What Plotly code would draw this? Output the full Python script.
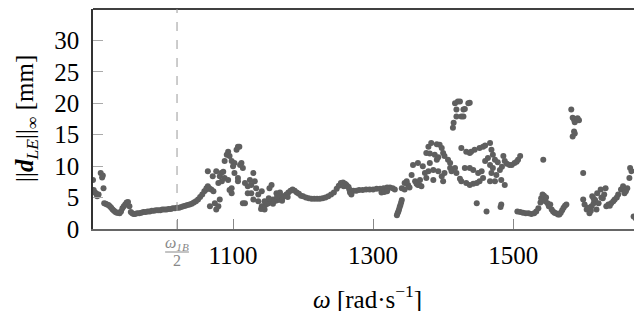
import plotly.graph_objects as go

# ---- data (omega in rad/s, ||d_LE||_inf in mm) ----
omega_left = [900, 901, 903, 905, 906, 908, 911, 913, 914, 915]
d_left = [7.8, 6.2, 5.8, 5.6, 5.2, 5.5, 8.9, 8.2, 8.5, 6.5]

omega_band1 = [916, 918, 920, 922, 924, 926, 928, 930, 932, 934, 936, 938, 940, 942, 944, 946,
               948, 950, 952, 954, 956, 958, 960, 963, 966, 969, 972, 975, 978, 981, 984, 987,
               990, 993, 996, 999, 1002, 1005, 1008, 1011, 1014, 1017, 1020, 1023, 1026, 1029,
               1032, 1035, 1038, 1041, 1044, 1047, 1050, 1053, 1056, 1059, 1062, 1064]
d_band1 = [4.1, 4.0, 3.9, 3.8, 3.6, 3.4, 3.1, 2.9, 2.7, 2.6, 2.6, 2.5, 2.8, 3.3, 3.6, 3.9,
           4.2, 4.3, 3.6, 2.7, 2.5, 2.4, 2.4, 2.5, 2.5, 2.6, 2.7, 2.7, 2.8, 2.8, 2.9, 2.9,
           3.0, 3.0, 3.0, 3.1, 3.1, 3.1, 3.2, 3.2, 3.3, 3.3, 3.4, 3.4, 3.5, 3.6,
           3.7, 3.8, 3.9, 4.0, 4.2, 4.4, 4.7, 5.1, 5.5, 6.0, 6.5, 6.8]

omega_scat1 = [1107, 1109, 1093, 1091, 1095, 1098, 1088, 1102, 1112, 1114, 1064, 1076, 1083,
               1086, 1102, 1071, 1081, 1088, 1093, 1107, 1129, 1079, 1084, 1107, 1117, 1124,
               1131, 1121, 1126, 1133, 1155, 1152, 1098, 1098, 1121, 1126, 1136, 1141, 1062,
               1066, 1069, 1072, 1067, 1074, 1081, 1076, 1079, 1117, 1129, 1136, 1141, 1145,
               1150, 1157, 1164, 1171, 1162, 1167, 1105, 1110, 1100, 1095, 1114]
d_scat1 = [13.1, 13.1, 12.3, 11.8, 11.6, 10.8, 10.8, 10.5, 10.5, 9.7, 9.2, 9.2, 8.9,
           9.1, 8.9, 8.4, 8.4, 8.1, 7.8, 8.1, 8.9, 7.3, 7.6, 7.6, 7.3, 7.8,
           7.6, 6.8, 7.0, 6.5, 7.0, 6.5, 6.5, 5.7, 5.7, 5.7, 5.5, 6.0, 6.3,
           6.5, 6.3, 6.0, 3.6, 4.1, 4.7, 3.1, 3.6, 4.1, 4.7, 4.4, 3.6, 3.1,
           4.1, 4.7, 4.9, 5.2, 5.7, 5.8, 12.6, 10.2, 10.0, 6.2, 4.1]

omega_band2 = [1140, 1143, 1146, 1149, 1152, 1155, 1158, 1161, 1164, 1167, 1170, 1173, 1176,
               1179, 1182, 1185, 1188, 1191, 1194, 1197, 1200, 1204, 1208, 1212, 1216, 1220,
               1224, 1228, 1232, 1236, 1240, 1244, 1248, 1251, 1254, 1257, 1260, 1263, 1266,
               1269, 1272, 1276, 1280, 1285, 1290, 1295, 1300, 1305, 1310, 1315, 1320, 1324,
               1328, 1331]
d_band2 = [3.2, 3.5, 3.8, 4.0, 4.2, 4.3, 4.4, 4.5, 4.6, 4.7, 4.9, 5.2, 5.5,
           5.8, 6.1, 6.3, 6.1, 5.8, 5.6, 5.3, 5.2, 5.0, 4.9, 4.8, 4.8, 4.8,
           4.8, 4.9, 5.0, 5.2, 5.5, 5.8, 6.4, 6.9, 7.3, 7.4, 7.2, 6.8, 6.3,
           6.1, 6.1, 6.1, 6.2, 6.2, 6.3, 6.3, 6.3, 6.4, 6.4, 6.5, 6.6, 6.6,
           6.5, 6.3]

omega_extra2 = [1145, 1151, 1157, 1163, 1170, 1178, 1258, 1262, 1265, 1267, 1269, 1312, 1316, 1320]
d_extra2 = [4.4, 4.9, 4.0, 5.2, 4.5, 5.1, 6.8, 7.0, 6.7, 5.8, 5.5, 5.8, 5.9, 6.0]

omega_strand = [1334, 1335, 1336, 1337, 1338, 1339, 1340, 1341]
d_strand = [2.2, 2.5, 2.8, 3.1, 3.5, 3.8, 4.2, 4.6]

omega_scat2 = [1341, 1345, 1350, 1355, 1360, 1364, 1367, 1357, 1364, 1371, 1374, 1379, 1376,
               1386, 1386, 1393, 1398, 1400, 1402, 1410, 1412, 1417, 1419, 1381, 1383, 1391,
               1395, 1398, 1400, 1402, 1407, 1410, 1379, 1376, 1381, 1388, 1391, 1393, 1352,
               1362, 1366, 1369, 1345, 1348]
d_scat2 = [6.5, 7.3, 7.0, 8.6, 7.6, 7.0, 7.8, 10.2, 10.5, 10.0, 8.9, 9.2, 8.1,
           9.4, 7.8, 9.2, 8.4, 7.6, 8.9, 9.7, 9.2, 9.7, 8.9, 10.5, 13.7, 13.5,
           13.4, 12.9, 12.1, 11.6, 11.0, 10.5, 13.1, 12.1, 12.0, 11.8, 11.0, 11.4, 6.6,
           7.2, 7.0, 6.8, 6.3, 7.6]

omega_high = [1414, 1415, 1419, 1426, 1419, 1429, 1417, 1421, 1436, 1438, 1424, 1429, 1431]
d_high = [16.1, 16.9, 17.9, 17.9, 19.0, 19.0, 20.0, 20.3, 20.0, 20.1, 20.3, 17.9, 19.1]

omega_scat3 = [1426, 1433, 1438, 1445, 1452, 1457, 1467, 1469, 1471, 1464, 1486, 1488, 1495,
               1502, 1507, 1510, 1474, 1478, 1460, 1467, 1471, 1481, 1484, 1469, 1476, 1483,
               1488, 1474, 1467, 1457, 1452, 1448, 1443, 1438, 1433, 1426, 1424, 1450, 1455,
               1443, 1431, 1438, 1448, 1462, 1483, 1482, 1543, 1498, 1491, 1505, 1440, 1460]
d_scat3 = [12.9, 12.3, 12.1, 12.6, 12.9, 13.1, 13.7, 12.6, 11.8, 11.3, 11.6, 10.8, 10.2,
           10.5, 11.0, 11.6, 11.0, 10.6, 10.8, 10.2, 9.7, 9.4, 9.9, 8.9, 8.6, 7.8,
           7.0, 7.6, 7.6, 8.1, 7.6, 7.3, 7.2, 7.0, 7.3, 7.6, 8.0, 8.9, 9.2,
           9.4, 9.7, 9.7, 4.1, 2.8, 3.9, 3.5, 11.0, 10.2, 10.4, 10.7, 12.3, 13.3]

omega_band3 = [1506, 1510, 1514, 1518, 1522, 1526, 1530, 1533, 1536, 1539, 1540, 1542, 1544,
               1546, 1547, 1549, 1551, 1553, 1555, 1557, 1559, 1561, 1564, 1566, 1568, 1570,
               1572, 1574, 1576]
d_band3 = [2.8, 2.7, 2.6, 2.5, 2.5, 2.4, 2.5, 2.8, 3.3, 4.2, 4.9, 5.5, 5.3,
           4.4, 5.0, 4.1, 3.6, 3.9, 3.1, 2.8, 2.6, 2.5, 2.3, 2.3, 2.6, 3.0,
           3.4, 3.7, 3.9]

omega_high2 = [1583, 1585, 1587, 1589, 1591, 1594, 1588, 1592, 1587, 1585, 1588, 1600]
d_high2 = [19.0, 17.7, 17.4, 17.5, 17.4, 17.3, 17.0, 17.6, 15.5, 14.7, 15.2, 8.9]

omega_band4 = [1600, 1602, 1605, 1609, 1611, 1612, 1615, 1617, 1613, 1620, 1625, 1632, 1619,
               1622, 1628, 1633, 1636, 1640, 1645, 1650, 1654, 1657, 1659, 1666, 1667, 1669,
               1661, 1663, 1648, 1643, 1638, 1626, 1630, 1607, 1615]
d_band4 = [4.7, 3.9, 3.1, 2.5, 2.9, 3.6, 4.1, 4.6, 5.2, 5.7, 6.3, 6.5, 3.1,
           4.1, 4.9, 3.6, 3.9, 4.1, 4.7, 5.5, 6.3, 6.8, 5.7, 8.1, 9.7, 9.2,
           6.0, 6.5, 5.0, 4.4, 3.7, 5.0, 5.5, 3.4, 4.8]

omega_end = [1672, 1675, 1678, 1681, 1684]
d_end = [2.0, 1.7, 1.9, 2.0, 2.1]

omega_half = 1020
x_ticks = [1020, 1100, 1300, 1500]
x_ticktext = ["", "1100", "1300", "1500"]
y_ticks = [0, 5, 10, 15, 20, 25, 30]

omega = (omega_left + omega_band1 + omega_scat1 + omega_band2 + omega_extra2 + omega_strand
         + omega_scat2 + omega_high + omega_scat3 + omega_band3 + omega_high2 + omega_band4 + omega_end)
d_le = (d_left + d_band1 + d_scat1 + d_band2 + d_extra2 + d_strand
        + d_scat2 + d_high + d_scat3 + d_band3 + d_high2 + d_band4 + d_end)

SERIF = "Liberation Serif"

fig = go.Figure()
fig.add_trace(go.Scatter(
    x=omega, y=d_le, mode="markers",
    marker=dict(size=6, color="rgb(95,95,95)", line=dict(width=0)),
    hoverinfo="skip", showlegend=False, cliponaxis=True,
))

# page body adds an 8px offset, so the figure is 8px smaller than the window
fig.update_layout(
    width=634, height=303,
    margin=dict(l=85, r=0, t=1, b=82),
    paper_bgcolor="white", plot_bgcolor="white",
    font=dict(family=SERIF, size=25, color="black"),
    showlegend=False,
)
fig.update_xaxes(
    range=[900, 1684], tickvals=x_ticks, ticktext=x_ticktext,
    ticks="inside", ticklen=10, tickcolor="#888", tickwidth=1,
    showline=True, linecolor="#666", linewidth=2, mirror=False,
    showgrid=False, zeroline=False, ticklabelstandoff=3,
    tickfont=dict(family=SERIF, size=25, color="black"),
)
fig.update_yaxes(
    range=[0, 35], tickvals=y_ticks,
    ticks="inside", ticklen=10, tickcolor="#aaa", tickwidth=1,
    showline=True, linecolor="#333", linewidth=1.5, mirror=False,
    showgrid=False, zeroline=False, ticklabelstandoff=7,
    tickfont=dict(family=SERIF, size=25, color="black"),
)

# top frame line
fig.add_shape(type="line", xref="paper", yref="paper", x0=0, x1=1, y0=1, y1=1,
              line=dict(color="black", width=1.5))
# dashed line at omega_1B / 2
fig.add_shape(type="line", xref="x", yref="paper", x0=omega_half, x1=omega_half, y0=0, y1=1,
              line=dict(color="#999", width=1, dash="dash"))

# fraction tick label omega_1B / 2
fig.add_annotation(x=omega_half, xref="x", y=0, yref="paper", yshift=-14, yanchor="middle",
                   text="<i>ω</i><sub><i>1B</i></sub>", showarrow=False,
                   font=dict(family=SERIF, size=16, color="#888"))
fig.add_annotation(x=omega_half, xref="x", y=0, yref="paper", yshift=-31, yanchor="middle",
                   text="2", showarrow=False,
                   font=dict(family=SERIF, size=16, color="#888"))
fig.add_shape(type="line", xref="x", yref="paper", ysizemode="pixel", yanchor=0,
              x0=omega_half - 17, x1=omega_half + 17, y0=-23, y1=-23,
              line=dict(color="#888", width=1))

fig.add_annotation(x=0.5, xref="paper", y=0, yref="paper", yshift=-68, yanchor="middle",
                   text="<i>ω</i> [rad·s<sup>−1</sup>]", showarrow=False,
                   font=dict(family=SERIF, size=25, color="black"))
fig.add_annotation(x=0, xref="paper", xshift=-67, xanchor="center", y=0.5, yref="paper",
                   yanchor="middle",
                   text="||<b><i>d</i></b><sub><i>LE</i></sub>||<sub>∞</sub> [mm]",
                   textangle=-90, showarrow=False,
                   font=dict(family=SERIF, size=25, color="black"))

fig.write_html("out.html")
